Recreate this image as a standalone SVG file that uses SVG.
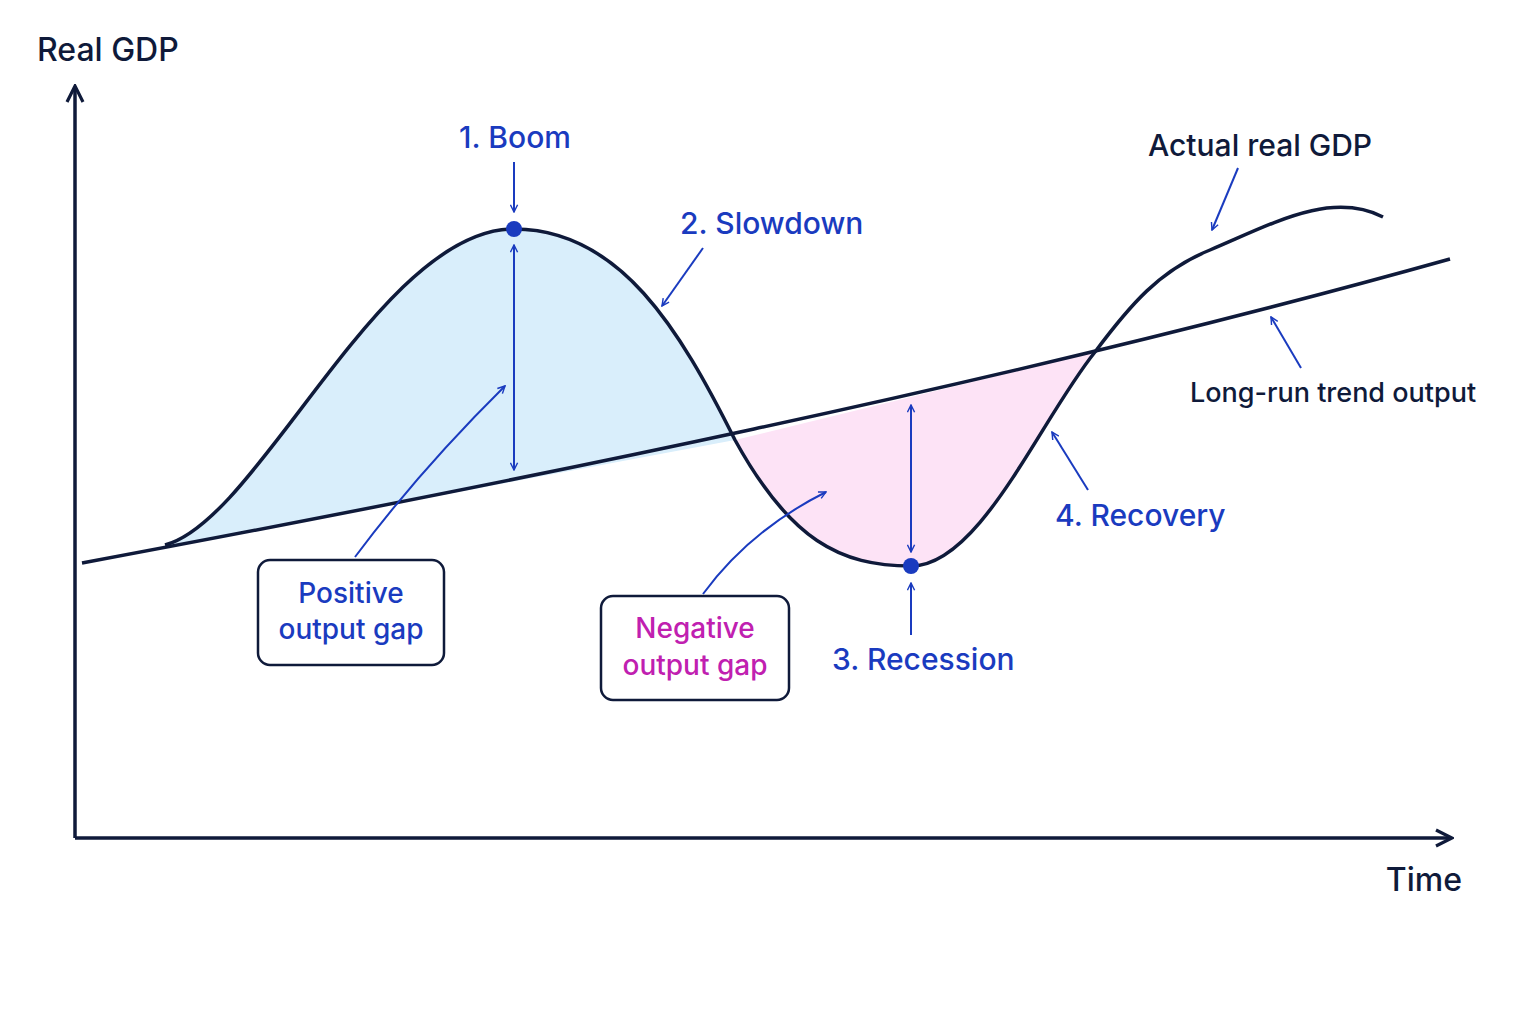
<svg xmlns="http://www.w3.org/2000/svg" width="1536" height="1024" viewBox="0 0 1536 1024">
<defs>
<marker id="ab" viewBox="0 0 10 10" refX="9" refY="5" markerWidth="9" markerHeight="9" orient="auto-start-reverse" markerUnits="userSpaceOnUse"><path d="M1,1 L9,5 L1,9" fill="none" stroke="#1a3bbf" stroke-width="1.6"/></marker>
<marker id="ak" viewBox="0 0 10 10" refX="8" refY="5" markerWidth="20" markerHeight="20" orient="auto" markerUnits="userSpaceOnUse"><path d="M1,1 L9,5 L1,9" fill="none" stroke="#0f1a3a" stroke-width="1.6"/></marker>
<style>
text{font-family:"Inter","Noto Sans",sans-serif;font-weight:500}
.dk{fill:#0f1a3a}.bl{fill:#1a3bbf}.pk{fill:#c020b0}
.ar{fill:none;stroke:#1a3bbf;stroke-width:2}
.box{fill:#fff;stroke:#0f1a3a;stroke-width:2.5}
</style>
</defs>
<rect width="1536" height="1024" fill="#fff"/>
<g id="fills">
<path d="M165,545 C260,520 380,229 514,229 C620,229 680,330 735,440 L165,547 Z" fill="#d9eefb"/>
<path d="M735,440 C790,540 840,566 911,566 C980,566 1040,420 1095,352 L735,440 Z" fill="#fde3f6"/>
</g>
<g id="axes" fill="none" stroke="#0f1a3a" stroke-width="3.5">
<path d="M75,838 V88" marker-end="url(#ak)"/>
<path d="M75,838 H1450" marker-end="url(#ak)"/>
</g>
<g id="curves" fill="none" stroke="#0f1a3a" stroke-width="3.5">
<path d="M82,563 C500,485 1000,385 1450,259"/>
<path d="M165,545 C260,520 380,229 514,229 C620,229 680,330 735,440 C790,540 840,566 911,566 C980,566 1040,420 1095,352 C1130,305 1160,270 1210,250 C1270,225 1330,190 1383,217"/>
</g>
<g id="connectors">
<path class="ar" d="M514,162 V212" marker-end="url(#ab)"/>
<path class="ar" d="M514,245 V470" marker-start="url(#ab)" marker-end="url(#ab)"/>
<path class="ar" d="M911,405 V552" marker-start="url(#ab)" marker-end="url(#ab)"/>
<path class="ar" d="M911,635 V583" marker-end="url(#ab)"/>
<path class="ar" d="M703,248 L662,306" marker-end="url(#ab)"/>
<path class="ar" d="M1238,168 L1212,230" marker-end="url(#ab)"/>
<path class="ar" d="M1301,368 L1271,317" marker-end="url(#ab)"/>
<path class="ar" d="M1088,490 L1052,432" marker-end="url(#ab)"/>
<path class="ar" d="M355,557 Q420,470 505,386" marker-end="url(#ab)"/>
<path class="ar" d="M703,594 Q750,530 826,492" marker-end="url(#ab)"/>
</g>
<g id="dots" fill="#1a3bbf"><circle cx="514" cy="229" r="8"/><circle cx="911" cy="566" r="8"/></g>
<g id="positive"><rect class="box" x="258" y="560" width="186" height="105" rx="12"/>
<text class="bl" x="351" y="603" font-size="28" text-anchor="middle">Positive</text>
<text class="bl" x="351" y="639" font-size="28" text-anchor="middle">output gap</text></g>
<g id="negative"><rect class="box" x="601" y="596" width="188" height="104" rx="12"/>
<text class="pk" x="695" y="638" font-size="28" text-anchor="middle">Negative</text>
<text class="pk" x="695" y="675" font-size="28" text-anchor="middle">output gap</text></g>
<g id="labels">
<text class="dk" x="37" y="61" font-size="32">Real GDP</text>
<text class="dk" x="1462" y="891" font-size="32" text-anchor="end">Time</text>
<text class="bl" x="515" y="148" font-size="30" text-anchor="middle">1. Boom</text>
<text class="bl" x="680" y="234" font-size="30">2. Slowdown</text>
<text class="bl" x="832" y="670" font-size="30">3. Recession</text>
<text class="bl" x="1055" y="526" font-size="30">4. Recovery</text>
<text class="dk" x="1148" y="156" font-size="30">Actual real GDP</text>
<text class="dk" x="1190" y="402" font-size="27">Long-run trend output</text>
</g>
</svg>
